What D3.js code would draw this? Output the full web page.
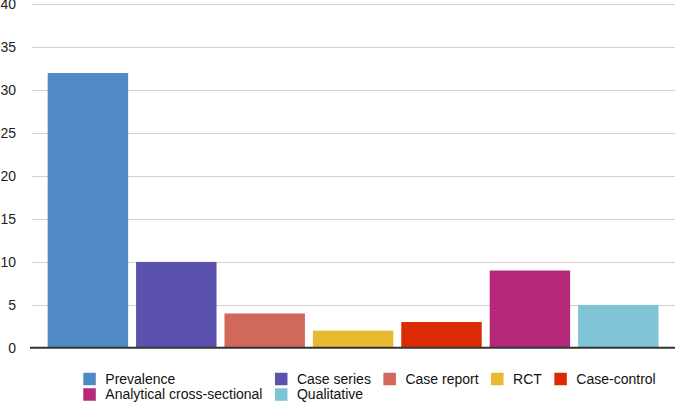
<!DOCTYPE html>
<html><head><meta charset="utf-8">
<script src="https://cdn.jsdelivr.net/npm/d3@7"></script>
<style>
html,body{margin:0;padding:0;background:#fff;}
svg{display:block;font-family:Helvetica,Arial,"Liberation Sans",sans-serif;}
</style></head>
<body>
<svg id="chart" width="675" height="403"></svg>
<script>
const categories = ["Prevalence","Case series","Case report","RCT","Case-control","Analytical cross-sectional","Qualitative"];
const values = [32,10,4,2,3,9,5];
const colors = ["#4f8ac6","#5a52ae","#d0685c","#e8b931","#dc2a05","#b52978","#80c2d6"];
const yTicks = [0,5,10,15,20,25,30,35,40];
const legendRows = [["Prevalence","Case series","Case report","RCT","Case-control"],["Analytical cross-sectional","Qualitative"]];

(function(){
const svg = d3.select("#chart");
const plotLeft = 32, plotRight = 675, plotTop = 4.3, plotBottom = 347.8;

const x = d3.scaleBand().domain(categories).range([43.7, 662.5]).paddingInner(0.09).paddingOuter(0.045);
const y = d3.scaleLinear().domain([0,40]).range([plotBottom, plotTop]);
const color = d3.scaleOrdinal().domain(categories).range(colors);

// grid
svg.append("g").selectAll("line").data(yTicks.filter(d=>d>0)).join("line")
  .attr("x1", plotLeft).attr("x2", plotRight)
  .attr("y1", d=>Math.round(y(d))+0.5).attr("y2", d=>Math.round(y(d))+0.5)
  .attr("stroke","#d0d0d0").attr("stroke-width",1);

// y labels
svg.append("g").selectAll("text").data(yTicks).join("text")
  .attr("x", 16).attr("y", d=>y(d)).attr("dy","0.35em")
  .attr("text-anchor","end").attr("font-size",14).attr("fill","#222")
  .text(d=>d);

// bars
svg.append("g").selectAll("rect").data(categories).join("rect")
  .attr("x", d=>x(d)).attr("width", x.bandwidth())
  .attr("y", (d,i)=>y(values[i])).attr("height", (d,i)=>y(0)-y(values[i]))
  .attr("fill", d=>color(d));

// baseline
svg.append("line").attr("x1",plotLeft-2).attr("x2",plotRight)
  .attr("y1",y(0)).attr("y2",y(0)).attr("stroke","#333").attr("stroke-width",2);

// legend: grid columns sized by widest text
const lg = svg.append("g");
const fs = 14;
const measure = lg.append("text").attr("font-size",fs).attr("visibility","hidden");
function tw(s){ measure.text(s); return measure.node().getComputedTextLength(); }
const nCols = d3.max(legendRows, r=>r.length);
const colW = d3.range(nCols).map(c => d3.max(legendRows, r => r[c] ? tw(r[c]) : 0));
measure.remove();
const swatch = 12.5, textGap = 9.5, colGap = 12.5;
const rowY = [379, 394.5];
legendRows.forEach((row, ri) => {
  let cx = 83.3;
  row.forEach((name, ci) => {
    const g = lg.append("g");
    g.append("rect").attr("x",cx).attr("y",rowY[ri]-swatch/2).attr("width",swatch).attr("height",swatch).attr("fill",color(name));
    g.append("text").attr("x",cx+swatch+textGap).attr("y",rowY[ri]).attr("dy","0.35em")
      .attr("font-size",fs).attr("fill","#111").text(name);
    cx += swatch + textGap + colW[ci] + colGap;
  });
});
})();
</script>
</body></html>
